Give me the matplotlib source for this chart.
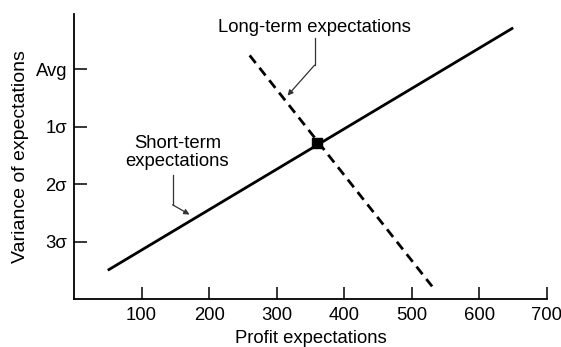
import matplotlib.pyplot as plt

plt.rcParams['font.family'] = ['Liberation Sans', 'DejaVu Sans']

# data (y: 0 = Avg, 1 = 1 sigma ..., inverted)
short_x = [50, 650]
short_y = [3.5, -0.72]
long_x = [260, 530]
long_y = [-0.24, 3.78]
cross_x = [360]
cross_y = [1.28]
xticks = [100, 200, 300, 400, 500, 600, 700]
yticks = [0, 1, 2, 3]
ytick_labels = ['Avg', '1σ', '2σ', '3σ']

fs = 13.3

fig = plt.figure(figsize=(5.61, 3.47), dpi=100)
ax = fig.add_axes([0.1319, 0.1383, 0.8431, 0.8213])

ax.plot(short_x, short_y, color='black', lw=2.0, solid_capstyle='butt')
ax.plot(long_x, long_y, color='black', lw=2.0, dashes=(3.5, 2.2))
ax.plot(cross_x, cross_y, 's', color='black', ms=7)

# labels with bent pointer lines
ax.text(356, -0.73, 'Long-term expectations', ha='center', va='center', fontsize=fs)
ax.plot([356, 356], [-0.54, -0.07], color='#333333', lw=0.9)
ax.annotate('', xy=(316, 0.46), xytext=(356, -0.07),
            arrowprops=dict(arrowstyle='-|>', color='#333333', lw=0.9,
                            mutation_scale=8, shrinkA=0, shrinkB=0))

ax.text(153, 1.45, 'Short-term\nexpectations', ha='center', va='center',
        fontsize=fs, linespacing=1.05)
ax.plot([146, 146], [1.85, 2.36], color='#333333', lw=0.9)
ax.annotate('', xy=(171, 2.53), xytext=(146, 2.36),
            arrowprops=dict(arrowstyle='-|>', color='#333333', lw=0.9,
                            mutation_scale=8, shrinkA=0, shrinkB=0))

ax.set_xlim(0, 700)
ax.set_ylim(4, -0.96)
ax.set_xticks(xticks)
ax.set_yticks(yticks)
ax.set_yticklabels(ytick_labels)
ax.tick_params(direction='in', length=9, width=1.1, labelsize=fs)
ax.tick_params(axis='x', pad=6)
ax.tick_params(axis='y', pad=5)
for s in ['top', 'right']:
    ax.spines[s].set_visible(False)
for s in ['left', 'bottom']:
    ax.spines[s].set_linewidth(1.3)

ax.set_xlabel('Profit expectations', fontsize=fs, labelpad=4)
ax.set_ylabel('Variance of expectations', fontsize=14, labelpad=5)

fig.savefig('out.png', dpi=100)
